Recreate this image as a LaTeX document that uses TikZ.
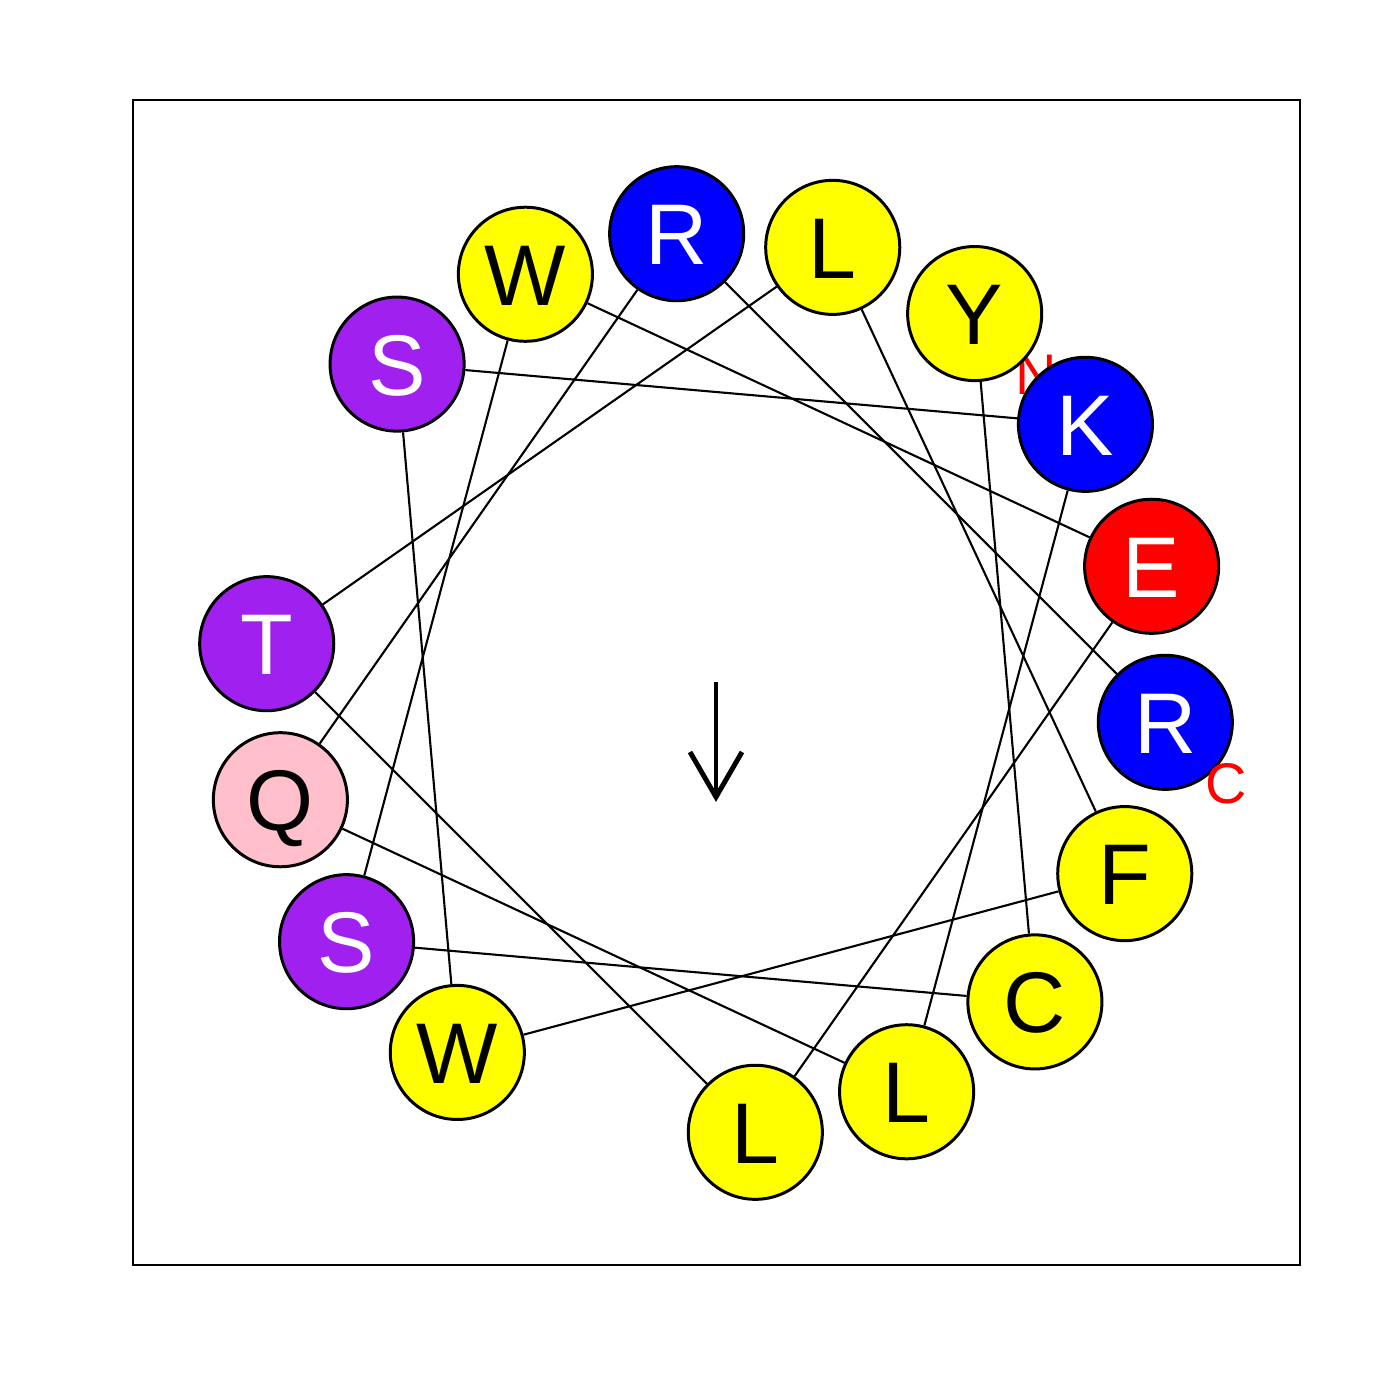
\documentclass[tikz,border=0pt]{standalone}
\usepackage{fontspec}
\setmainfont{Liberation Sans}
\usepackage{tikz}
\usetikzlibrary{positioning}
\definecolor{rpurple}{HTML}{A020F0}
\definecolor{rpink}{HTML}{FFC0CB}
\definecolor{rblue}{HTML}{0000FF}
\definecolor{rred}{HTML}{FF0000}
\definecolor{ryellow}{HTML}{FFFF00}

\begin{document}
\begin{tikzpicture}[y=-0.01cm,x=0.01cm,
  res/.style={circle,draw,line width=0.85pt,minimum size=1.34cm,inner sep=0pt,
    font=\fontsize{24.5}{24.5}\selectfont,text height=0.62cm,text depth=0pt},
  link/.style={line width=0.6pt},
  term/.style={text=rred,font=\fontsize{16.3}{16.3}\selectfont,inner sep=0pt}]
  \useasboundingbox (0,0) rectangle (1400,1400);
  % plot frame
  \draw[line width=0.8pt] (133,100) rectangle (1300,1265);
  % N terminus label sits under the K circle
  \node[term] (nterm) at (1036,375) {N};
  % residues on the wheel, 100 degrees apart, radius 451
  \foreach \i/\aa/\fc/\tc in {0/Y/ryellow/black,1/C/ryellow/black,2/S/rpurple/white,
      3/W/ryellow/black,4/E/rred/white,5/L/ryellow/black,6/T/rpurple/white,
      7/L/ryellow/black,8/F/ryellow/black,9/W/ryellow/black,10/S/rpurple/white,
      11/K/rblue/white,12/L/ryellow/black,13/Q/rpink/black,14/R/rblue/white,
      15/R/rblue/white}
    \node[res,fill=\fc,text=\tc] (r\i) at ({716+451*cos(55-100*\i)},{683-451*sin(55-100*\i)}) {\aa};
  % backbone
  \foreach \i [remember=\i as \j (initially 0)] in {1,...,15}
    \draw[link] (r\j) -- (r\i);
  \node[term] (cterm) at (1226,784) {C};
  % hydrophobic moment
  \coordinate (mtail) at (716,682);
  \coordinate (mhead) at (716,797);
  \draw[line width=1.4pt] (mtail) -- (mhead);
  \draw[line width=1.4pt] (mhead) ++(-26,-45) -- (mhead) -- ++(26,-45);
\end{tikzpicture}
\end{document}
